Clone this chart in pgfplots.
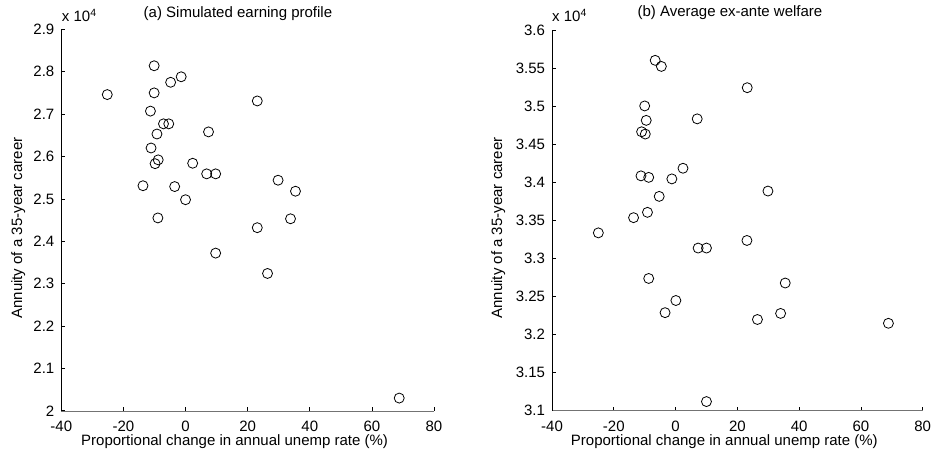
\documentclass[border=0pt]{standalone}
\usepackage{fontspec}
\setmainfont{Liberation Sans}
\usepackage{pgfplots}
\usepackage{pgfplotstable}
\pgfplotsset{compat=1.18}

% Simulated earning profile (annuity in units of 10^4)
\pgfplotstableread{
x y
-10.1 2.814
-1.4 2.788
-4.8 2.775
-25.2 2.746
-10.1 2.750
23.1 2.731
-11.3 2.707
-7.1 2.677
-5.4 2.677
-9.2 2.653
7.4 2.658
-11.1 2.620
-8.8 2.592
-9.8 2.583
2.3 2.584
6.8 2.559
9.7 2.559
29.8 2.544
-13.7 2.531
-3.5 2.529
35.4 2.518
0.0 2.498
-8.9 2.455
33.8 2.453
23.1 2.432
9.7 2.372
26.4 2.324
68.8 2.030
}\earning

% Average ex-ante welfare (annuity in units of 10^4)
\pgfplotstableread{
x y
-6.6 3.561
-4.6 3.553
23.2 3.525
-10.0 3.501
7.0 3.484
-9.5 3.482
-11.0 3.467
-9.8 3.464
2.4 3.419
-11.2 3.409
-8.7 3.407
-1.2 3.405
29.9 3.389
-5.3 3.382
-9.1 3.361
-13.6 3.354
-25.0 3.334
23.1 3.324
7.3 3.314
10.0 3.314
-8.7 3.274
35.5 3.268
0.1 3.245
-3.4 3.229
34.0 3.228
26.5 3.220
68.9 3.215
10.0 3.112
}\welfare

\pgfplotsset{
  panel/.style={
    scale only axis,
    font=\fontsize{15}{18}\selectfont,
    /pgf/number format/assume math mode=true,
    axis x line*=bottom,
    axis y line*=left,
    axis line style={-},
    x axis line style={black!55},
    y axis line style={black},
    tick align=inside,
    major tick length=4pt,
    tick style={black, line width=0.6pt},
    xmin=-40, xmax=80,
    xtick={-40,-20,0,20,40,60,80},
    xticklabel style={anchor=base, inner sep=0pt, yshift=-21.2pt},
    yticklabel style={xshift=-3.5pt},
    xlabel={Proportional change in annual unemp rate (\%)},
    xlabel style={at={(axis description cs:0.465,0)}, anchor=base, inner sep=0pt, yshift=-35.2pt},
    ylabel={Annuity of a 35-year career},
    every axis title/.style={anchor=base, font=\fontsize{15}{18}\selectfont},
    clip=false,
  },
  dots/.style={only marks, mark=o, mark size=5pt, black, line width=0.8pt},
}

\begin{document}
\begin{tikzpicture}[x=1pt,y=1pt]
\useasboundingbox (0,0) rectangle (933,457);

\begin{axis}[panel,
  at={(61.3pt,46.2pt)}, anchor=south west,
  width=372.7pt, height=381.5pt,
  ymin=2, ymax=2.9,
  ytick={2,2.1,2.2,2.3,2.4,2.5,2.6,2.7,2.8,2.9},
  ylabel style={at={(axis description cs:0,0.479)}, anchor=center, yshift=43pt},
  title={(a) Simulated earning profile},
  title style={at={(axis description cs:0.474,1)}, yshift=12.3pt},
]
\addplot[dots] table[x=x,y=y] {\earning};
\node[anchor=base west, inner sep=0pt, yshift=7.6pt, xshift=0.5pt]
  at (axis description cs:0,1) {x 10\textsuperscript{4}};
\end{axis}

\begin{axis}[panel,
  at={(552pt,46.3pt)}, anchor=south west,
  width=370.7pt, height=380pt,
  ymin=3.1, ymax=3.6,
  ytick={3.1,3.15,3.2,3.25,3.3,3.35,3.4,3.45,3.5,3.55,3.6},
  ylabel style={at={(axis description cs:0,0.481)}, anchor=center, yshift=53.7pt},
  title={(b) Average ex-ante welfare},
  title style={at={(axis description cs:0.480,1)}, yshift=13.7pt},
]
\addplot[dots] table[x=x,y=y] {\welfare};
\node[anchor=base west, inner sep=0pt, yshift=9pt, xshift=0pt]
  at (axis description cs:0,1) {x 10\textsuperscript{4}};
\end{axis}
\end{tikzpicture}
\end{document}
